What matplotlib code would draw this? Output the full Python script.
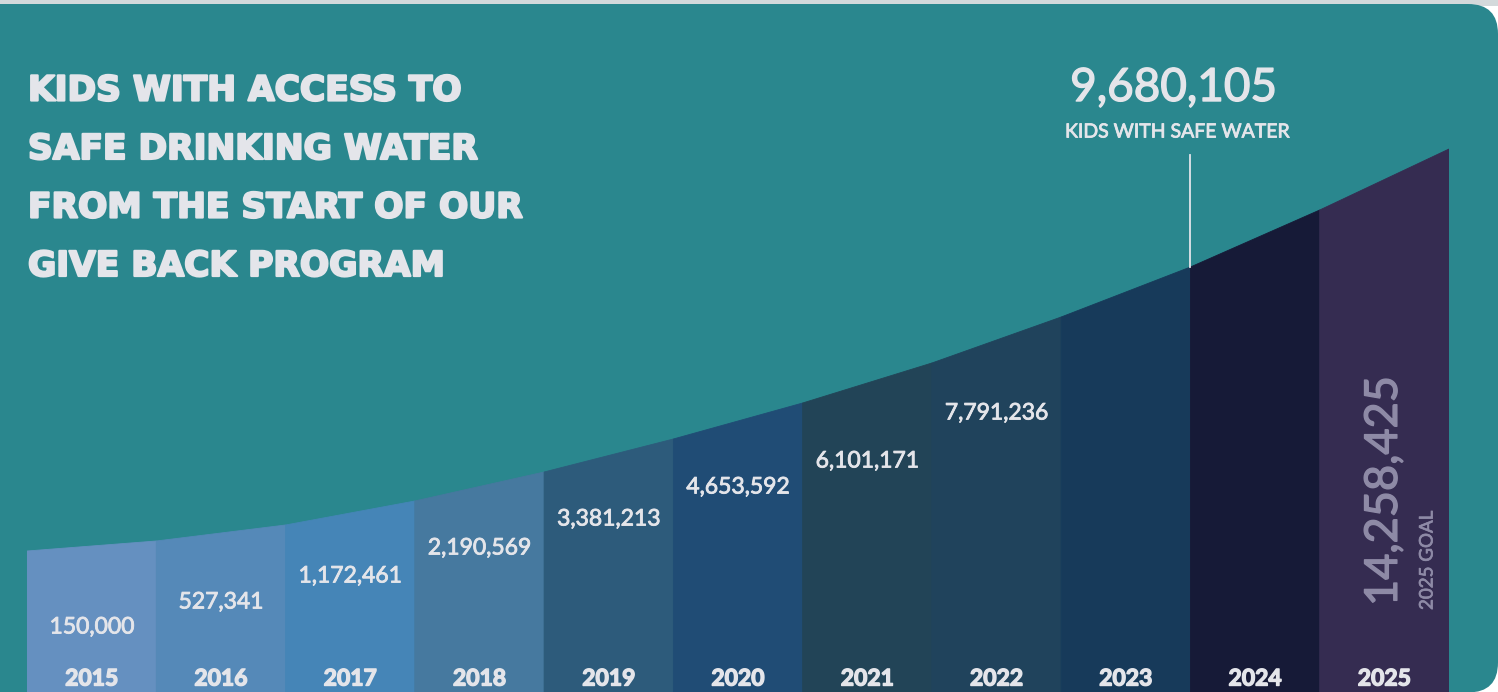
import matplotlib.pyplot as plt
import matplotlib.patheffects as pe
from matplotlib.patches import FancyBboxPatch, Rectangle

# data
years = [2015, 2016, 2017, 2018, 2019, 2020, 2021, 2022, 2023, 2024, 2025]
kids = [150000, 527341, 1172461, 2190569, 3381213, 4653592, 6101171, 7791236, 9680105, None, 14258425]
# height of the decorative silhouette at each column edge (px from bottom)
edge_heights = [141, 151, 167, 191, 220, 253, 289, 329, 375, 425, 482, 543]
col_colors = ['#6590c0', '#5589b8', '#4585b7', '#46799f', '#2d5b7b', '#204c75',
              '#224457', '#20435c', '#173a5a', '#161a37', '#352c51']
label_heights = [65, 90, 116, 144, 173, 205, 231, 279]

W, H = 1498, 692
TEAL = '#2a878e'
TXT = '#e4e5ea'
GOAL = '#8e8aa6'
FONT = 'Lato'


def heavy(c, w):
    # fake heavier weight with a thin outline of the same colour
    return [pe.withStroke(linewidth=w, foreground=c)]


fig = plt.figure(figsize=(W / 100, H / 100), dpi=100)
fig.patch.set_facecolor('white')

# background card in pixel coords
bg = fig.add_axes([0, 0, 1, 1])
bg.set_xlim(0, W)
bg.set_ylim(H, 0)
bg.axis('off')
bg.add_patch(Rectangle((0, 0), W, 6, color='#d3d9db', lw=0))
bg.add_patch(FancyBboxPatch((-80, 4), W + 80, H - 4 + 0.5,
                            boxstyle='round,pad=0,rounding_size=30',
                            facecolor=TEAL, edgecolor='none'))

# columns
ax = fig.add_axes([27 / W, 0, 1422 / W, 1])
ax.set_xlim(0, 11)
ax.set_ylim(0, H)
ax.axis('off')
ax.patch.set_visible(False)

for i, yr in enumerate(years):
    ax.fill([i, i + 1, i + 1, i], [0, 0, edge_heights[i + 1], edge_heights[i]],
            color=col_colors[i], lw=0.6, ec=col_colors[i])
    ax.text(i + 0.5, 13, str(yr), ha='center', va='center', fontsize=16.5,
            fontweight='bold', color=TXT, family=FONT,
            path_effects=heavy(TXT, 1.0))

for i, h in enumerate(label_heights):
    ax.text(i + 0.5, h, f'{kids[i]:,}', ha='center', va='center', fontsize=16.5,
            color=TXT, family=FONT, path_effects=heavy(TXT, 0.6))

# 2025 goal, rotated
ax.text(10.5, 86, f'{kids[10]:,}', rotation=90, ha='center', va='bottom',
        fontsize=32.5, color=GOAL, family=FONT, path_effects=heavy(GOAL, 1.0))
ax.text(10.83, 82, '2025 GOAL', rotation=90, ha='center', va='bottom',
        fontsize=13.5, color=GOAL, family=FONT, path_effects=heavy(GOAL, 0.5))

# callout for 2023 total
ax.plot([9, 9], [edge_heights[9], 537], color=TXT, lw=1.3)
ax.text(8.87, 604, f'{kids[8]:,}', ha='center', va='center', fontsize=33,
        color=TXT, family=FONT, path_effects=heavy(TXT, 1.0))
ax.text(8.9, 560, 'KIDS WITH SAFE WATER', ha='center', va='center', fontsize=14,
        color=TXT, family=FONT, path_effects=heavy(TXT, 0.6))

# title
title_lines = ['KIDS WITH ACCESS TO', 'SAFE DRINKING WATER',
               'FROM THE START OF OUR', 'GIVE BACK PROGRAM']
for k, line in enumerate(title_lines):
    fig.text(28 / W, 1 - (91 + 58.5 * k) / H, line, ha='left', va='center',
             fontsize=24.8, fontweight='bold', color=TXT, family='DejaVu Sans',
             path_effects=heavy(TXT, 1.6))

fig.savefig('out.png', dpi=100, facecolor=fig.get_facecolor())
